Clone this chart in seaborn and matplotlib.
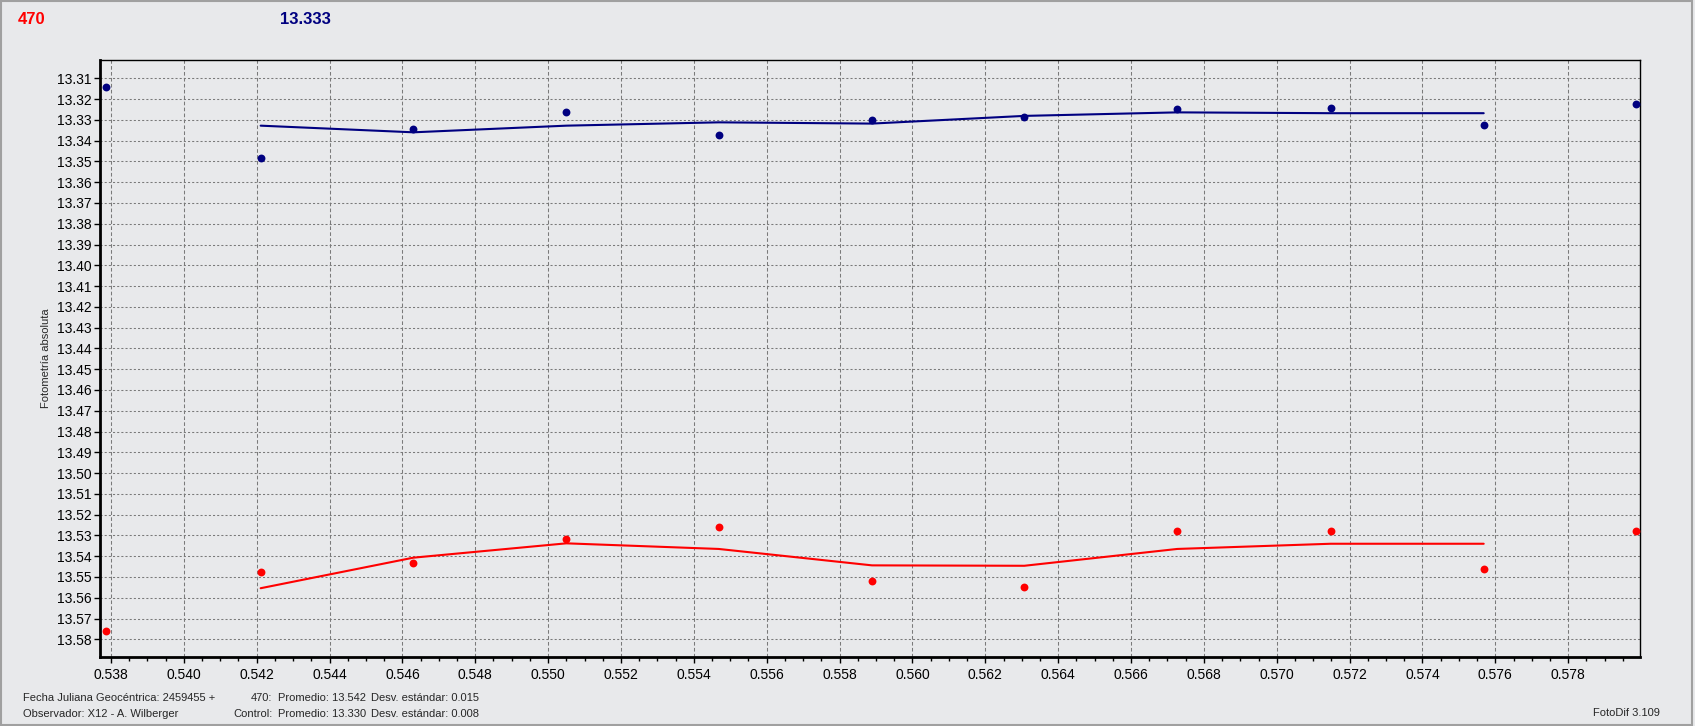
import matplotlib
matplotlib.use("Agg")
import matplotlib.pyplot as plt
from matplotlib.patches import Rectangle
from matplotlib.ticker import MultipleLocator, FormatStrFormatter
import numpy as np
import pandas as pd
import seaborn as sns

# Fecha juliana (fraccion) de cada toma
jd = [0.53786, 0.54211, 0.54630, 0.55050, 0.55468, 0.55889,
      0.56307, 0.56727, 0.57148, 0.57568, 0.57985]

# Fotometria del objeto 470 (rojo) y de la estrella de control (azul)
mag_470 = [13.5758, 13.5474, 13.5431, 13.5317, 13.5259, 13.5518,
           13.5547, 13.5277, 13.5277, 13.5460, 13.5277]
mag_control = [13.3140, 13.3482, 13.3345, 13.3261, 13.3371, 13.3302,
               13.3285, 13.3249, 13.3241, 13.3325, 13.3222]

# Curvas suavizadas (de la 2a a la penultima toma)
curve_470 = [13.5554, 13.5407, 13.5338, 13.5365, 13.5444, 13.5446,
             13.5365, 13.5340, 13.5340]
curve_control = [13.3328, 13.3360, 13.3328, 13.3312, 13.3318, 13.3281,
                 13.3264, 13.3268, 13.3268]

header_470 = "470"
header_control = "13.333"
stats = {"470": ("13.542", "0.015"), "Control": ("13.330", "0.008")}

RED = "#FF0000"
NAVY = "#000080"
BG = "#E8E9EB"

sns.set_style("white")
plt.rcParams["font.family"] = ["Liberation Sans", "DejaVu Sans"]

W, H = 1695, 726
fig = plt.figure(figsize=(W / 100, H / 100), dpi=100, facecolor=BG)
ax = fig.add_axes([100 / W, (H - 657) / H, 1540 / W, 597 / H])
ax.set_facecolor(BG)

pts = pd.DataFrame({"jd": jd, "470": mag_470, "Control": mag_control})
curves = pd.DataFrame({"jd": jd[1:-1], "470": curve_470, "Control": curve_control})

sns.lineplot(data=curves, x="jd", y="Control", ax=ax, color=NAVY, lw=1.5, zorder=3)
sns.lineplot(data=curves, x="jd", y="470", ax=ax, color=RED, lw=1.5, zorder=3)
sns.scatterplot(data=pts, x="jd", y="Control", ax=ax, color=NAVY, s=32,
                linewidth=0, zorder=4, clip_on=False)
sns.scatterplot(data=pts, x="jd", y="470", ax=ax, color=RED, s=32,
                linewidth=0, zorder=4, clip_on=False)

ax.set_xlim(0.53770, 0.57997)
ax.set_ylim(13.5885, 13.3012)

ax.xaxis.set_major_locator(MultipleLocator(0.002))
ax.xaxis.set_minor_locator(MultipleLocator(0.0005))
ax.xaxis.set_major_formatter(FormatStrFormatter("%.3f"))
ax.yaxis.set_major_locator(MultipleLocator(0.01))
ax.yaxis.set_major_formatter(FormatStrFormatter("%.2f"))

ax.tick_params(axis="both", which="major", direction="out", length=4, width=1,
               color="black", labelsize=10, labelcolor="black", pad=2)
ax.tick_params(axis="x", which="minor", direction="out", length=3, width=1,
               color="black")
ax.tick_params(axis="x", which="major", pad=4)
ax.tick_params(left=True, bottom=True, which="both")

ax.xaxis.grid(True, which="major", color="#7A7A7A", lw=0.75, linestyle=(0, (3.5, 2.2)))
ax.yaxis.grid(True, which="major", color="#7A7A7A", lw=0.75, linestyle=(0, (2, 2)))
ax.set_axisbelow(True)

for side, w in [("left", 2), ("bottom", 2), ("top", 1), ("right", 1)]:
    ax.spines[side].set_visible(True)
    ax.spines[side].set_color("black")
    ax.spines[side].set_linewidth(w)

ax.set_xlabel("")
ax.set_ylabel("Fotometría absoluta", fontsize=8, labelpad=4)

# cabecera
fig.text(18 / W, 1 - 19 / H, header_470, color=RED, fontsize=12,
         fontweight="bold", va="center", ha="left")
fig.text(280 / W, 1 - 19 / H, header_control, color=NAVY, fontsize=12,
         fontweight="bold", va="center", ha="left")

# pie
fs = 8
fig.text(23 / W, 1 - 698 / H, "Fecha Juliana Geocéntrica: 2459455 +", fontsize=fs, va="center")
fig.text(23 / W, 1 - 714 / H, "Observador: X12 - A. Wilberger", fontsize=fs, va="center")
for name, yy in [("470", 698), ("Control", 714)]:
    prom, desv = stats[name]
    fig.text(272.5 / W, 1 - yy / H, name + ":", fontsize=fs, va="center", ha="right")
    fig.text(278 / W, 1 - yy / H, "Promedio: " + prom, fontsize=fs, va="center")
    fig.text(371 / W, 1 - yy / H, "Desv. estándar: " + desv, fontsize=fs, va="center")
fig.text(1593 / W, 1 - 713 / H, "FotoDif 3.109", fontsize=fs, va="center")

fig.patches.append(Rectangle((0.0005, 0.001), 0.998, 0.997, transform=fig.transFigure,
                             fill=False, edgecolor="#A0A0A0", lw=1.5))

fig.savefig("out.png", dpi=100, facecolor=BG)
